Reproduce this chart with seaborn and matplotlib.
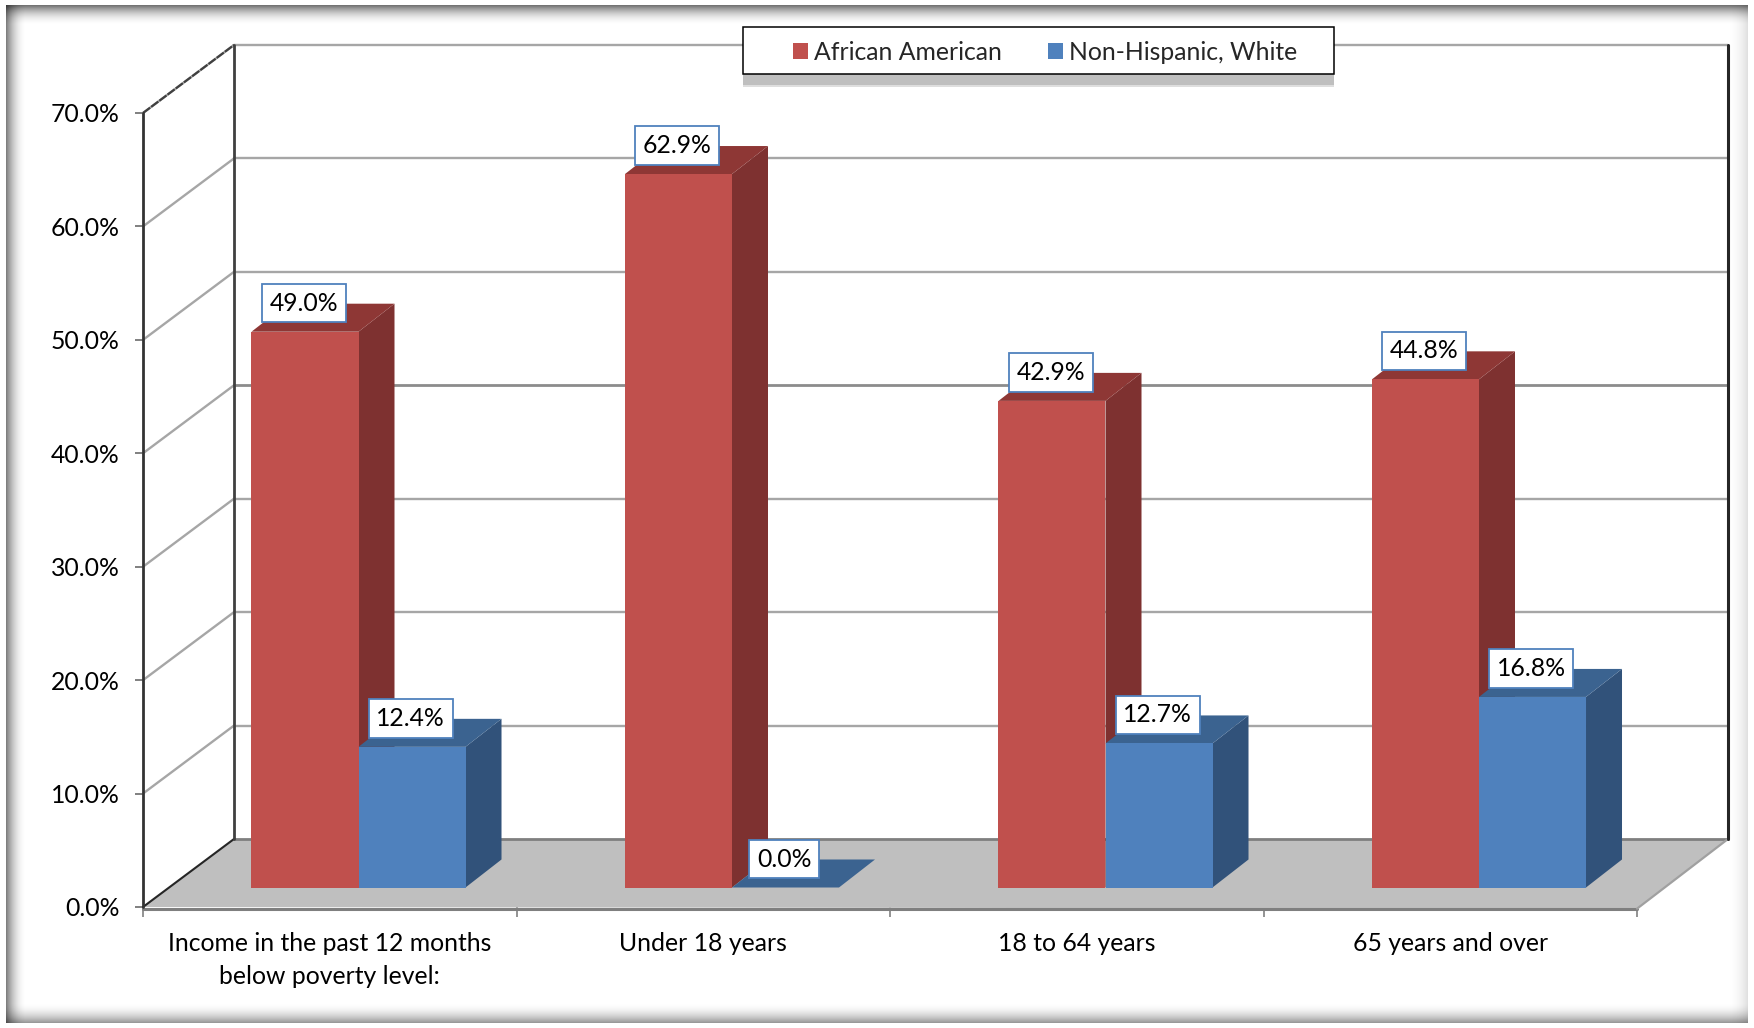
import numpy as np
import pandas as pd
import seaborn as sns
import matplotlib.pyplot as plt
from matplotlib.patches import Polygon, Rectangle

categories = ['Income in the past 12 months\nbelow poverty level:', 'Under 18 years',
              '18 to 64 years', '65 years and over']
african_american = [49.0, 62.9, 42.9, 44.8]
non_hispanic_white = [12.4, 0.0, 12.7, 16.8]
y_ticks = [0, 10, 20, 30, 40, 50, 60, 70]

W, H = 1754, 1028
RED = '#C0504D'
BLUE = '#4F81BD'
SIDE = {RED: '#7E3130', BLUE: '#31527A'}
TOP = {RED: '#8E3735', BLUE: '#3B6390'}
PX_PER_CAT = 373.5
PX_PER_PCT = 11.34

sns.set_style('white')
plt.rcParams['font.family'] = ['Lato', 'DejaVu Sans']
FS = 17.8

df = pd.DataFrame({
    'category': categories * 2,
    'value': african_american + non_hispanic_white,
    'group': ['African American'] * 4 + ['Non-Hispanic, White'] * 4,
})

fig = plt.figure(figsize=(W / 100, H / 100), dpi=100)


def px_axes(left, top, right, bottom, z):
    ax = fig.add_axes([left / W, 1 - bottom / H, (right - left) / W, (bottom - top) / H])
    ax.set_zorder(z)
    ax.patch.set_alpha(0)
    return ax


# walls and floor, on the front axis scale
wall = px_axes(143, 113, 1637, 907, 1)
wall.set_xlim(0, 4)
wall.set_ylim(0, 70)
sns.despine(ax=wall, left=True, bottom=True, right=True, top=True)
back_x = 91 / PX_PER_CAT
back_y = 68 / PX_PER_PCT

wall.add_patch(Polygon([(0, 0), (back_x, back_y), (4 + back_x, back_y), (4, -0.15)],
                       fc='#BFBFBF', ec='none', clip_on=False, zorder=1))
for t in y_ticks[1:]:
    wall.plot([0, back_x], [t, t + back_y], color='#A6A6A6', lw=1.7, clip_on=False, zorder=1.5)
    wall.plot([back_x, 4 + back_x], [t + back_y, t + back_y],
              color='#8C8C8C' if t == 40 else '#A6A6A6', lw=2 if t == 40 else 1.7,
              clip_on=False, zorder=1.5)
wall.plot([back_x, 4 + back_x], [back_y, back_y], color='#7F7F7F', lw=2, clip_on=False, zorder=2)
wall.plot([0, 4], [-0.15, -0.15], color='#7F7F7F', lw=2.2, clip_on=False, zorder=2)
wall.plot([4, 4 + back_x], [-0.15, back_y], color='#A0A0A0', lw=1.6, clip_on=False, zorder=2)
wall.plot([0, back_x], [0, back_y], color='#262626', lw=1.5, clip_on=False, zorder=2)
wall.plot([0, back_x], [70, 70 + back_y], color='#404040', lw=1.6, ls=(0, (4, 0.6)), clip_on=False, zorder=2)
wall.plot([0, 0], [0, 70], color='#333333', lw=2, clip_on=False, zorder=2)
wall.plot([back_x, back_x], [back_y, 70 + back_y], color='#404040', lw=2, clip_on=False, zorder=2)
wall.plot([4 + back_x, 4 + back_x], [back_y, 70 + back_y], color='#262626', lw=2.2, clip_on=False, zorder=2)

wall.set_yticks(y_ticks)
wall.set_yticklabels([f'{t:.1f}%' for t in y_ticks], fontsize=FS, color='black', va='center_baseline')
wall.tick_params(axis='y', length=5.8, width=1.4, color='#808080', pad=11, left=True)
wall.set_xticks([0.5, 1.5, 2.5, 3.5])
wall.set_xticklabels(categories, fontsize=FS, color='black', linespacing=1.5)
wall.set_xticks([0, 1, 2, 3, 4], minor=True)
wall.tick_params(axis='x', which='major', length=0, pad=18)
wall.tick_params(axis='x', which='minor', length=7, width=1.2, color='#808080', bottom=True)

# bars sit a little way into the floor
ax = px_axes(171.75, 93.5, 1665.75, 887.5, 2)
sns.barplot(data=df, x='category', y='value', hue='group', palette=[RED, BLUE],
            width=0.573, gap=0, saturation=1, linewidth=0, ax=ax)
ax.set_xlim(-0.5, 3.5)
ax.set_ylim(0, 70)
ax.axis('off')

old = ax.get_legend()
handles = old.legend_handles
labels = [t.get_text() for t in old.get_texts()]
old.remove()

depth_x = 36 / PX_PER_CAT
depth_y = 28 / PX_PER_PCT
for k, (container, color) in enumerate(zip(ax.containers, [RED, BLUE])):
    for bar in container:
        bar.set_zorder(3 + 2 * k)
        x, w, h = bar.get_x(), bar.get_width(), bar.get_height()
        ax.add_patch(Polygon([(x + w, 0), (x + w + depth_x, depth_y),
                              (x + w + depth_x, h + depth_y), (x + w, h)],
                             fc=SIDE[color], ec='none', clip_on=False, zorder=2 + 2 * k))
        ax.add_patch(Polygon([(x, h), (x + w, h), (x + w + depth_x, h + depth_y),
                              (x + depth_x, h + depth_y)],
                             fc=TOP[color], ec='none', clip_on=False, zorder=2 + 2 * k))
        ax.annotate(f'{h:.1f}%', (x + w / 2, h), xytext=(-1, 20.5), textcoords='offset points',
                    ha='center', va='center', fontsize=FS, color='black', zorder=8,
                    bbox=dict(boxstyle='square,pad=0.31', fc='white', ec=BLUE, lw=1.3))

# frame and legend, in picture pixels
top = fig.add_axes([0, 0, 1, 1])
top.set_zorder(3)
top.patch.set_alpha(0)
top.set_xlim(0, W)
top.set_ylim(H, 0)
top.axis('off')

# soft shadow on the inside of the frame, strongest on the left and top
left_edge, right_edge, top_edge, bottom_edge = 6, 1748, 5, 1023
for i in range(20):
    fade = (1 - i / 20) ** 2
    top.add_patch(Rectangle((left_edge + i, top_edge), 1, bottom_edge - top_edge, fc='black', ec='none', alpha=0.5 * fade))
    top.add_patch(Rectangle((left_edge, top_edge + i), right_edge - left_edge, 1, fc='black', ec='none', alpha=0.55 * fade))
    top.add_patch(Rectangle((left_edge, bottom_edge - i - 1), right_edge - left_edge, 1, fc='black', ec='none', alpha=0.4 * fade))
    top.add_patch(Rectangle((right_edge - i - 1, top_edge), 1, bottom_edge - top_edge, fc='black', ec='none', alpha=0.12 * fade))

top.add_patch(Rectangle((743, 74), 591, 11, fc='#BFBFBF', ec='none'))
top.add_patch(Rectangle((743, 85), 591, 1.5, fc='#BFBFBF', ec='none', alpha=0.5))
top.add_patch(Rectangle((743, 27), 591, 47, fc='white', ec='black', lw=1.1))
top.legend(handles, labels, loc='center', bbox_to_anchor=(1045, 52.5), bbox_transform=top.transData,
           frameon=False, ncol=2, fontsize=FS, handlelength=0.6, handleheight=0.6,
           handletextpad=0.25, columnspacing=1.85)

fig.savefig('out.png', dpi=100)
